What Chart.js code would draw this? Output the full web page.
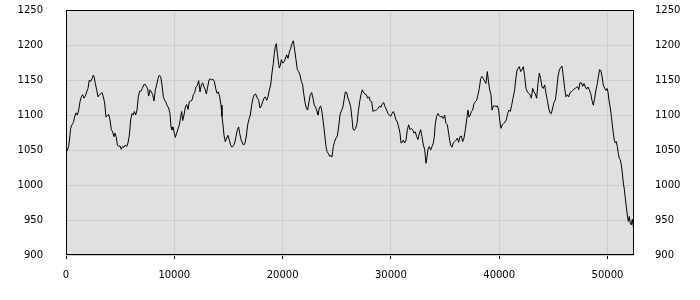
<!DOCTYPE html>
<html lang="en">
<head>
    <meta charset="UTF-8">
    <title>Series chart</title>
    <style>
        body {
            margin: 0;
            background: #ffffff;
        }
        canvas {
            display: block;
        }
    </style>
</head>
<body>
    <canvas id="myChart" width="700" height="300"></canvas>

    <script src="https://cdn.jsdelivr.net/npm/chart.js"></script>
    <script>
        // x positions of the samples
        const xValues = [
            30, 123, 246, 339, 431, 554, 677, 800, 923, 1047, 1170, 1293, 1416, 1539, 1662, 1785, 1908, 2031, 2155, 2278,
            2401, 2524, 2586, 2708, 2832, 2955, 3078, 3201, 3324, 3447, 3570, 3693, 3817, 3940, 4063, 4186, 4309, 4432, 4524, 4648,
            4740, 4863, 4986, 5109, 5232, 5355, 5478, 5602, 5725, 5848, 5971, 6094, 6217, 6310, 6433, 6556, 6679, 6802, 6925, 7049,
            7172, 7295, 7418, 7541, 7633, 7756, 7880, 8003, 8126, 8249, 8372, 8495, 8618, 8741, 8864, 8988, 9111, 9234, 9357, 9480,
            9603, 9696, 9788, 9880, 9973, 10096, 10219, 10342, 10465, 10588, 10681, 10773, 10896, 11019, 11142, 11265, 11389, 11512, 11635, 11758,
            11881, 12004, 12127, 12250, 12374, 12497, 12620, 12743, 12866, 12958, 13082, 13205, 13328, 13451, 13574, 13697, 13820, 13944, 14067, 14190,
            14313, 14405, 14497, 14590, 14713, 14836, 14959, 15082, 15205, 15329, 15452, 15575, 15698, 15821, 15944, 16037, 16160, 16283, 16406, 16529,
            16652, 16775, 16898, 17022, 17145, 17268, 17391, 17514, 17668, 17791, 17914, 18037, 18161, 18284, 18407, 18530, 18653, 18776, 18899, 19022,
            19146, 19238, 19330, 19423, 19515, 19607, 19700, 19792, 19884, 20007, 20130, 20254, 20377, 20500, 20623, 20746, 20869, 20992, 21115, 21238,
            21362, 21485, 21608, 21731, 21854, 21946, 22069, 22193, 22316, 22439, 22562, 22685, 22808, 22931, 23054, 23178, 23270, 23393, 23516, 23609,
            23700, 23823, 23916, 24008, 24100, 24224, 24347, 24470, 24562, 24685, 24808, 24931, 25055, 25178, 25301, 25424, 25547, 25670, 25793, 25916,
            26040, 26163, 26286, 26409, 26501, 26624, 26747, 26870, 26994, 27117, 27240, 27363, 27486, 27609, 27732, 27855, 27978, 28102, 28225, 28348,
            28471, 28594, 28717, 28840, 28963, 29087, 29210, 29333, 29456, 29610, 29733, 29856, 29980, 30103, 30226, 30349, 30472, 30595, 30718, 30841,
            30934, 31057, 31149, 31272, 31395, 31518, 31642, 31765, 31888, 32011, 32134, 32257, 32380, 32503, 32627, 32750, 32873, 32996, 33119, 33242,
            33334, 33427, 33550, 33673, 33796, 33919, 34011, 34104, 34227, 34350, 34473, 34596, 34719, 34842, 34966, 35089, 35212, 35335, 35427, 35520,
            35643, 35767, 35890, 36013, 36136, 36259, 36382, 36505, 36628, 36751, 36875, 36998, 37121, 37213, 37336, 37429, 37552, 37675, 37798, 37921,
            38044, 38167, 38290, 38414, 38537, 38660, 38783, 38906, 38998, 39121, 39245, 39337, 39460, 39583, 39706, 39829, 39952, 40045, 40168, 40291,
            40414, 40537, 40660, 40783, 40907, 41030, 41153, 41276, 41368, 41430, 41522, 41646, 41769, 41861, 41984, 42107, 42230, 42354, 42477, 42600,
            42723, 42846, 42969, 43092, 43215, 43339, 43462, 43585, 43708, 43831, 43954, 44077, 44200, 44324, 44447, 44570, 44693, 44816, 44939, 45062,
            45185, 45309, 45432, 45555, 45678, 45801, 45924, 46047, 46170, 46294, 46417, 46540, 46663, 46786, 46909, 47032, 47155, 47278, 47339, 47462,
            47586, 47709, 47832, 47955, 48078, 48201, 48324, 48447, 48570, 48694, 48817, 48940, 49063, 49186, 49278, 49401, 49494, 49617, 49740, 49863,
            49955, 50048, 50140, 50232, 50355, 50448, 50540, 50632, 50725, 50817, 50909, 51002, 51094, 51186, 51279, 51371, 51463, 51556, 51648, 51740,
            51833, 51925, 52017, 52110, 52202, 52294, 52387, 52440
        ];

        // sample values
        const yValues = [
            1048, 1049, 1055, 1067, 1081, 1086, 1089, 1097, 1103, 1100, 1107, 1119, 1126, 1129, 1124, 1127, 1133, 1138, 1150, 1148,
            1152, 1157, 1155, 1145, 1136, 1126, 1129, 1130, 1132, 1126, 1117, 1097, 1099, 1101, 1093, 1079, 1076, 1069, 1074, 1068,
            1057, 1055, 1056, 1051, 1055, 1054, 1057, 1055, 1060, 1071, 1093, 1102, 1100, 1105, 1100, 1107, 1126, 1134, 1134, 1138,
            1143, 1144, 1141, 1137, 1127, 1136, 1133, 1129, 1120, 1136, 1143, 1152, 1157, 1155, 1143, 1126, 1121, 1118, 1113, 1110,
            1102, 1083, 1079, 1083, 1076, 1068, 1074, 1080, 1086, 1097, 1105, 1092, 1100, 1111, 1115, 1108, 1119, 1120, 1121, 1129,
            1132, 1140, 1142, 1149, 1133, 1143, 1146, 1140, 1136, 1130, 1140, 1150, 1152, 1150, 1151, 1148, 1138, 1131, 1133, 1126,
            1114, 1098, 1086, 1071, 1062, 1067, 1071, 1064, 1057, 1054, 1056, 1060, 1069, 1079, 1083, 1074, 1065, 1060, 1057, 1060,
            1070, 1086, 1094, 1100, 1114, 1124, 1129, 1130, 1124, 1121, 1110, 1113, 1119, 1124, 1126, 1121, 1126, 1136, 1143, 1160,
            1174, 1188, 1198, 1202, 1188, 1176, 1167, 1171, 1179, 1174, 1176, 1180, 1186, 1181, 1190, 1195, 1202, 1206, 1193, 1179,
            1165, 1162, 1157, 1148, 1143, 1131, 1118, 1110, 1107, 1119, 1129, 1132, 1124, 1114, 1111, 1105, 1100, 1110, 1113, 1107,
            1097, 1081, 1068, 1055, 1048, 1045, 1041, 1042, 1040, 1055, 1062, 1067, 1070, 1083, 1100, 1106, 1110, 1121, 1133, 1132,
            1124, 1119, 1112, 1095, 1080, 1078, 1081, 1088, 1105, 1119, 1129, 1136, 1132, 1130, 1129, 1124, 1126, 1120, 1119, 1105,
            1107, 1106, 1108, 1110, 1113, 1111, 1116, 1118, 1112, 1107, 1102, 1100, 1098, 1102, 1105, 1100, 1093, 1090, 1083, 1074,
            1060, 1061, 1064, 1060, 1064, 1079, 1086, 1079, 1081, 1079, 1074, 1076, 1069, 1065, 1074, 1079, 1069, 1057, 1051, 1031,
            1040, 1051, 1055, 1050, 1055, 1060, 1069, 1088, 1098, 1102, 1099, 1097, 1098, 1095, 1100, 1088, 1086, 1074, 1064, 1057,
            1054, 1060, 1062, 1064, 1067, 1061, 1069, 1070, 1062, 1067, 1079, 1093, 1107, 1097, 1100, 1105, 1107, 1116, 1119, 1121,
            1129, 1138, 1152, 1155, 1152, 1148, 1145, 1162, 1150, 1136, 1129, 1107, 1113, 1113, 1112, 1113, 1107, 1093, 1081, 1086,
            1088, 1090, 1093, 1102, 1107, 1105, 1114, 1124, 1131, 1136, 1150, 1164, 1167, 1169, 1162, 1165, 1169, 1155, 1138, 1133,
            1131, 1129, 1124, 1138, 1133, 1130, 1124, 1145, 1160, 1152, 1140, 1138, 1143, 1131, 1121, 1110, 1103, 1102, 1110, 1118,
            1121, 1136, 1155, 1164, 1168, 1170, 1155, 1138, 1126, 1129, 1126, 1132, 1133, 1135, 1137, 1138, 1140, 1140, 1136, 1146,
            1146, 1141, 1145, 1140, 1137, 1140, 1136, 1131, 1121, 1114, 1124, 1136, 1145, 1157, 1165, 1163, 1155, 1143, 1138, 1135,
            1138, 1133, 1121, 1113, 1099, 1086, 1074, 1064, 1060, 1062, 1055, 1045, 1038, 1036, 1029, 1017, 1003, 994, 981, 969,
            957, 948, 955, 945, 943, 951, 940, 950
        ];

        const xTicks = [0, 10000, 20000, 30000, 40000, 50000];
        const yMin = 900;
        const yMax = 1250;
        const xMax = 52450;

        const points = xValues.map((x, i) => ({ x: x, y: yValues[i] }));

        // gray plot background and black frame
        const plotFrame = {
            id: 'plotFrame',
            beforeDraw(chart) {
                const a = chart.chartArea;
                const ctx = chart.ctx;
                ctx.save();
                ctx.fillStyle = '#e0e0e0';
                ctx.fillRect(a.left, a.top, a.right - a.left, a.bottom - a.top);
                ctx.restore();
            },
            afterDatasetsDraw(chart) {
                const a = chart.chartArea;
                const ctx = chart.ctx;
                ctx.save();
                ctx.strokeStyle = '#000000';
                ctx.lineWidth = 1;
                ctx.strokeRect(a.left + 0.5, a.top + 0.5, a.right - a.left - 1, a.bottom - a.top - 1);
                ctx.restore();
            }
        };

        const tickFont = { family: 'DejaVu Sans', size: 10 };
        const plainLabel = (value) => String(value);

        // fixed side axis width, and no extra top/bottom room from label padding
        const fitSideAxis = (axis) => {
            axis.width = 66;
            axis.paddingTop = 0;
            axis.paddingBottom = 0;
        };

        const ctx = document.getElementById('myChart').getContext('2d');
        const myChart = new Chart(ctx, {
            type: 'line',
            data: {
                datasets: [{
                    data: points,
                    borderColor: '#000000',
                    borderWidth: 1,
                    pointRadius: 0,
                    tension: 0,
                    fill: false
                }]
            },
            plugins: [plotFrame],
            options: {
                responsive: false,
                animation: false,
                layout: { padding: { top: 10, left: 0, right: 0, bottom: 0 } },
                plugins: {
                    legend: { display: false },
                    tooltip: { enabled: false }
                },
                scales: {
                    x: {
                        type: 'linear',
                        position: 'bottom',
                        min: 0,
                        max: xMax,
                        afterBuildTicks: (axis) => {
                            axis.ticks = xTicks.map(v => ({ value: v }));
                        },
                        afterFit: (axis) => {
                            axis.height = 45;
                            axis.paddingLeft = 0;
                            axis.paddingRight = 0;
                        },
                        ticks: {
                            color: '#000000',
                            font: tickFont,
                            padding: 10,
                            maxRotation: 0,
                            callback: plainLabel
                        },
                        grid: {
                            color: '#cdcdcd',
                            tickColor: '#000000',
                            tickLength: 4
                        },
                        border: { display: false }
                    },
                    y: {
                        position: 'left',
                        min: yMin,
                        max: yMax,
                        afterFit: fitSideAxis,
                        ticks: {
                            stepSize: 50,
                            color: '#000000',
                            font: tickFont,
                            padding: 23,
                            callback: plainLabel
                        },
                        grid: {
                            color: '#cdcdcd',
                            tickLength: 0
                        },
                        border: { display: false }
                    },
                    y2: {
                        position: 'right',
                        min: yMin,
                        max: yMax,
                        afterFit: fitSideAxis,
                        ticks: {
                            stepSize: 50,
                            color: '#000000',
                            font: tickFont,
                            padding: 21,
                            callback: plainLabel
                        },
                        grid: {
                            drawOnChartArea: false,
                            tickLength: 0
                        },
                        border: { display: false }
                    }
                }
            }
        });
    </script>
</body>
</html>
